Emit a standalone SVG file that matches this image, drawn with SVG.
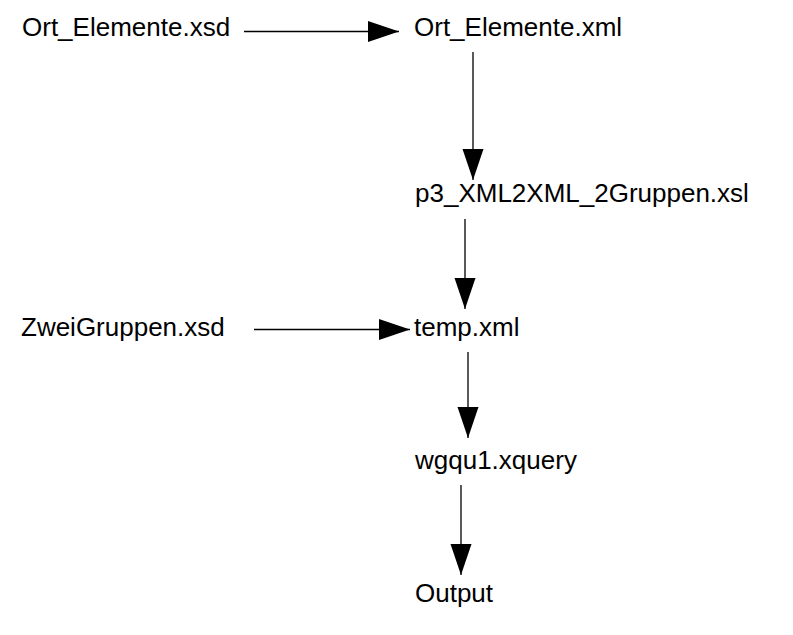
<svg xmlns="http://www.w3.org/2000/svg" width="793" height="635" viewBox="0 0 793 635">
<style>
text { font-family: "Liberation Sans", Arial, sans-serif; font-size: 26px; fill: #000; }
.c { stroke: #000; stroke-width: 1.3; fill: none; marker-end: url(#ah); }
</style>
<defs>
<marker id="ah" markerUnits="userSpaceOnUse" markerWidth="32" markerHeight="22" refX="31" refY="10.5" orient="auto">
<path d="M0,0 L31,10.5 L0,21 z" fill="#000"/>
</marker>
</defs>
<rect width="793" height="635" fill="#fff"/>
<g id="connectors">
<line class="c" x1="244" y1="31.5" x2="399" y2="31.5"/>
<line class="c" x1="473" y1="52" x2="473" y2="180"/>
<line class="c" x1="465" y1="219" x2="465" y2="309"/>
<line class="c" x1="254" y1="329.5" x2="410" y2="329.5"/>
<line class="c" x1="468" y1="352" x2="468" y2="438"/>
<line class="c" x1="461" y1="485" x2="461" y2="575"/>
</g>
<g id="n-ort-xsd"><text x="22" y="36">Ort_Elemente.xsd</text></g>
<g id="n-ort-xml"><text x="414" y="36">Ort_Elemente.xml</text></g>
<g id="n-p3"><text x="415" y="202">p3_XML2XML_2Gruppen.xsl</text></g>
<g id="n-zwei"><text x="21" y="336">ZweiGruppen.xsd</text></g>
<g id="n-temp"><text x="414" y="336">temp.xml</text></g>
<g id="n-wgqu"><text x="415" y="469">wgqu1.xquery</text></g>
<g id="n-output"><text x="415" y="602">Output</text></g>
</svg>
